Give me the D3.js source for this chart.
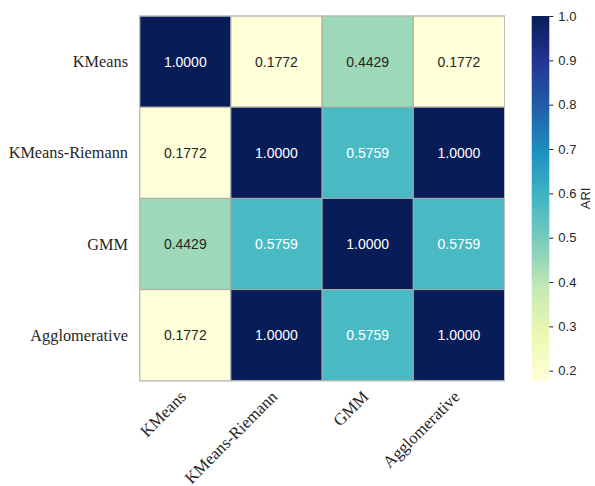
<!DOCTYPE html>
<html>
<head>
<meta charset="utf-8">
<script src="https://cdn.jsdelivr.net/npm/d3@7"></script>
<style>
  html, body { margin: 0; padding: 0; background: #fff; }
  svg { display: block; }
</style>
</head>
<body>
<svg id="chart" width="595" height="486"></svg>
<script>
// Adjusted Rand Index between clustering methods
const methods = ["KMeans", "KMeans-Riemann", "GMM", "Agglomerative"];
const ariRows = [
  [1.0000, 0.1772, 0.4429, 0.1772],
  [0.1772, 1.0000, 0.5759, 1.0000],
  [0.4429, 0.5759, 1.0000, 0.5759],
  [0.1772, 1.0000, 0.5759, 1.0000]
];
const colorbarTicks = [0.2, 0.3, 0.4, 0.5, 0.6, 0.7, 0.8, 0.9, 1.0];
const ylgnbu = ["#ffffd9","#edf8b1","#c7e9b4","#7fcdbb","#41b6c4","#1d91c0","#225ea8","#253494","#081d58"];

const svg = d3.select("#chart");
const plotLeft = 139.7, plotTop = 16, plotSize = 364.8;

const allVals = ariRows.flat();
const vmin = d3.min(allVals), vmax = d3.max(allVals);

const x = d3.scaleBand().domain(methods).range([plotLeft, plotLeft + plotSize]);
const y = d3.scaleBand().domain(methods).range([plotTop, plotTop + plotSize]);

const color = d3.scaleLinear()
  .domain(ylgnbu.map((_, i) => vmin + (vmax - vmin) * i / (ylgnbu.length - 1)))
  .range(ylgnbu)
  .interpolate(d3.interpolateRgb)
  .clamp(true);

const cells = [];
ariRows.forEach((row, i) => row.forEach((v, j) => cells.push({ r: methods[i], c: methods[j], v })));

svg.append("g").selectAll("rect").data(cells).join("rect")
  .attr("x", d => x(d.c))
  .attr("y", d => y(d.r))
  .attr("width", x.bandwidth())
  .attr("height", y.bandwidth())
  .attr("fill", d => color(d.v))
  .attr("stroke", "#a9a9a9")
  .attr("stroke-width", 1);

function luminance(c) {
  const rgb = d3.rgb(c);
  const lin = v => { v /= 255; return v <= 0.03928 ? v / 12.92 : Math.pow((v + 0.055) / 1.055, 2.4); };
  return 0.2126 * lin(rgb.r) + 0.7152 * lin(rgb.g) + 0.0722 * lin(rgb.b);
}

svg.append("g").selectAll("text").data(cells).join("text")
  .attr("x", d => x(d.c) + x.bandwidth() / 2)
  .attr("y", d => y(d.r) + y.bandwidth() / 2)
  .attr("text-anchor", "middle")
  .attr("dominant-baseline", "central")
  .attr("font-family", "Liberation Sans, Arial, sans-serif")
  .attr("font-size", 14)
  .attr("fill", d => luminance(color(d.v)) > 0.408 ? "#262626" : "#ffffff")
  .text(d => d3.format(".4f")(d.v));

// outer frame
svg.append("rect")
  .attr("x", plotLeft).attr("y", plotTop).attr("width", plotSize).attr("height", plotSize)
  .attr("fill", "none").attr("stroke", "#c0c0c0").attr("stroke-width", 1);

// row labels
svg.append("g").selectAll("text").data(methods).join("text")
  .attr("x", 128)
  .attr("y", d => y(d) + y.bandwidth() / 2)
  .attr("text-anchor", "end")
  .attr("dominant-baseline", "central")
  .attr("font-family", "Liberation Serif, Times New Roman, serif")
  .attr("font-size", 16.3)
  .attr("fill", "#262626")
  .text(d => d);

// column labels
svg.append("g").selectAll("text").data(methods).join("text")
  .attr("transform", d => `translate(${x(d) + x.bandwidth() / 2 - 2},${plotTop + plotSize + 13}) rotate(-45)`)
  .attr("text-anchor", "end")
  .attr("dominant-baseline", "central")
  .attr("font-family", "Liberation Serif, Times New Roman, serif")
  .attr("font-size", 16.8)
  .attr("fill", "#262626")
  .text(d => d);

// colorbar
const cbX = 531.7, cbW = 17.6;
const cbScale = d3.scaleLinear().domain([vmin, vmax]).range([plotTop + plotSize, plotTop]);
const defs = svg.append("defs");
const grad = defs.append("linearGradient").attr("id", "cbgrad")
  .attr("x1", 0).attr("y1", 1).attr("x2", 0).attr("y2", 0);
ylgnbu.forEach((c, i) => grad.append("stop")
  .attr("offset", i / (ylgnbu.length - 1)).attr("stop-color", c));
svg.append("rect")
  .attr("x", cbX).attr("y", plotTop).attr("width", cbW).attr("height", plotSize)
  .attr("fill", "url(#cbgrad)");

const cbAxis = d3.axisRight(cbScale).tickValues(colorbarTicks)
  .tickFormat(d3.format(".1f")).tickSize(4).tickPadding(5);
const cbG = svg.append("g").attr("transform", `translate(${cbX + cbW},0)`).call(cbAxis);
cbG.select(".domain").remove();
cbG.selectAll(".tick line").attr("stroke", "#262626").attr("stroke-width", 1);
cbG.selectAll(".tick text")
  .attr("font-family", "Liberation Sans, Arial, sans-serif")
  .attr("font-size", 13)
  .attr("fill", "#262626");

svg.append("text")
  .attr("transform", `translate(590,${plotTop + plotSize / 2}) rotate(-90)`)
  .attr("text-anchor", "middle")
  .attr("font-family", "Liberation Sans, Arial, sans-serif")
  .attr("font-size", 13)
  .attr("fill", "#262626")
  .text("ARI");
</script>
</body>
</html>
